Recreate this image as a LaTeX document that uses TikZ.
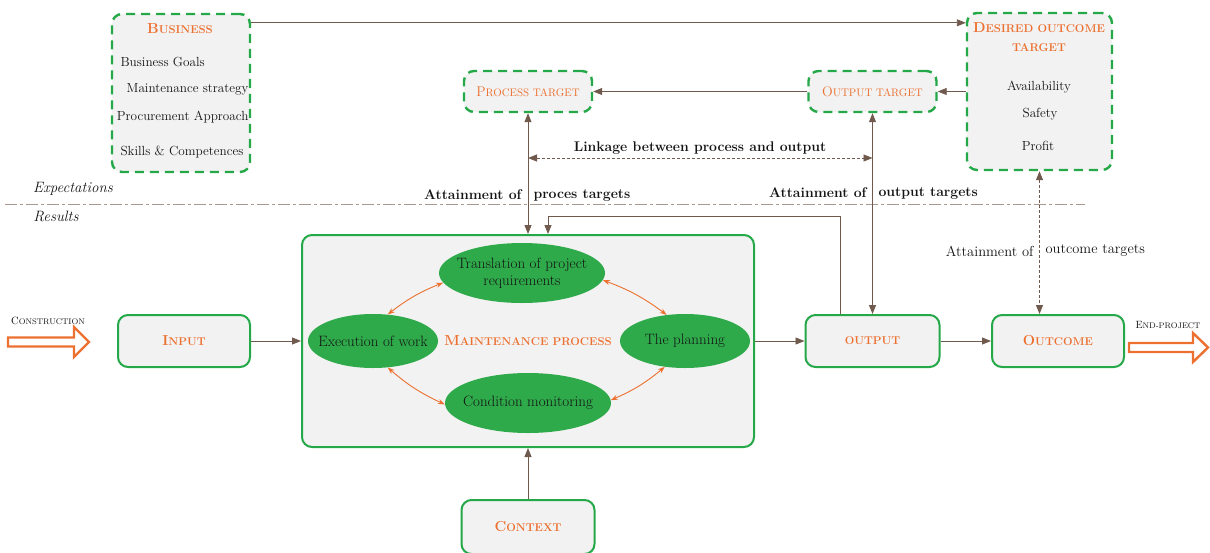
\documentclass[tikz,border=0pt]{standalone}
\usetikzlibrary{arrows.meta,shapes.geometric}

\definecolor{boxgreen}{RGB}{36,168,72}
\definecolor{ellgreen}{RGB}{46,170,74}
\definecolor{accent}{RGB}{236,112,48}
\definecolor{conn}{RGB}{112,90,78}
\definecolor{panel}{RGB}{242,242,242}
\definecolor{divider}{RGB}{168,152,142}
\definecolor{ink}{RGB}{20,20,20}

% capitals followed by reduced capitals (works in bold too)
\makeatletter
\newcommand\smc[1]{{\fontsize{\fpeval{0.78*\f@size}}{0}\selectfont\MakeUppercase{#1}}}
\makeatother

\tikzset{
  solidbox/.style={draw=boxgreen, line width=2pt, rounded corners=10pt, fill=panel},
  dashbox/.style={draw=boxgreen, line width=2.4pt, dash pattern=on 9pt off 6pt,
                  rounded corners=10pt, fill=panel},
  phase/.style={ellipse, fill=ellgreen, inner sep=0pt},
  phasetext/.style={text=ink, align=center, inner sep=0pt,
                    font=\fontsize{15}{17}\selectfont},
  title/.style={text=accent, font=\fontsize{14.5}{21}\selectfont\bfseries, align=center},
  subtitle/.style={text=accent, font=\fontsize{14}{16}\selectfont},
  item/.style={text=ink, font=\fontsize{13.2}{15}\selectfont},
  caption/.style={text=ink, font=\fontsize{14}{16}\selectfont\bfseries},
  link/.style={draw=conn, line width=0.9pt, -{Triangle[length=9pt,width=7pt]}},
  twoway/.style={draw=conn, line width=0.9pt,
                 {Triangle[length=9pt,width=7pt]}-{Triangle[length=9pt,width=7pt]}},
  dashtwoway/.style={twoway, dash pattern=on 3pt off 2pt},
  cyclelink/.style={draw=accent, line width=0.9pt,
                    {Stealth[length=7pt,width=5pt]}-{Stealth[length=7pt,width=5pt]}},
  hollow/.style={draw=accent, line width=2.4pt, fill=white, line join=miter},
  tag/.style={text=ink, font=\fontsize{10.5}{13}\selectfont},
}

\begin{document}
\begin{tikzpicture}[x=1pt,y=-1pt]
\useasboundingbox (0,0) rectangle (1210,552);

% ---- expectations / results divider
\draw[divider, line width=1pt, dash pattern=on 12pt off 3pt on 3pt off 3pt] (5,204) -- (1085,204);
\node[text=ink, font=\fontsize{15}{17}\selectfont\itshape] (expect) at (73,189) {Expectations};
\node[text=ink, font=\fontsize{15}{17}\selectfont\itshape] (results) at (56,216) {Results};

% ---- business box
\node[dashbox, minimum width=138pt, minimum height=158pt] (business) at (181,93) {};
\node[title] (bizhead) at (180,29) {B\smc{usiness}};
\node[item, anchor=west] (goals) at (117,62) {Business Goals};
\node[item, anchor=east] (strategy) at (252,89) {Maintenance strategy};
\node[item, anchor=east] (procure) at (252,117) {Procurement Approach};
\node[item, anchor=east] (skills) at (247,152) {Skills \& Competences};

% ---- desired outcome target
\node[dashbox, minimum width=145pt, minimum height=157pt] (desired) at (1039.5,91.5) {};
\node[title] (deshead) at (1039,37) {D\smc{esired outcome}\\[-2pt]\smc{target}};
\node[item] (avail) at (1039,87) {Availability};
\node[item] (safety) at (1040,114) {Safety};
\node[item] (profit) at (1038,146) {Profit};

% ---- process / output targets
\node[dashbox, minimum width=128pt, minimum height=41pt, subtitle] (proctarget) at (528,91.5) {P\smc{rocess target}};
\node[dashbox, minimum width=128pt, minimum height=41pt, subtitle] (outtarget) at (872.5,91.5) {O\smc{utput target}};

% ---- maintenance process with its four phases
\node[solidbox, minimum width=452pt, minimum height=212pt] (maint) at (528,341) {};
\node[title] (mainthead) at (528,341) {M\smc{aintenance process}};
\node[phase, minimum width=166pt, minimum height=60pt] (trans) at (522,273) {};
\node[phase, minimum width=130pt, minimum height=54pt] (exec) at (373,341) {};
\node[phase, minimum width=130pt, minimum height=54pt] (plan) at (685,341) {};
\node[phase, minimum width=166pt, minimum height=60pt] (cond) at (528,403) {};
\node[phasetext] (transtext) at (trans.center) {Translation of project\\requirements};
\node[phasetext] (exectext) at (exec.center) {Execution of work};
\node[phasetext] (plantext) at (plan.center) {The planning};
\node[phasetext] (condtext) at (cond.center) {Condition monitoring};

\draw[cyclelink] (exec.61) to[bend left=8] (trans.187);
\draw[cyclelink] (trans.355) to[bend left=8] (plan.125);
\draw[cyclelink] (plan.232) to[bend left=8] (cond.2);
\draw[cyclelink] (cond.181) to[bend left=8] (exec.299);

% ---- result chain
\node[solidbox, minimum width=132pt, minimum height=52pt, title] (input) at (184,341) {I\smc{nput}};
\node[solidbox, minimum width=134pt, minimum height=52pt, title] (output) at (872.5,341) {\smc{output}};
\node[solidbox, minimum width=132pt, minimum height=52pt, title] (outcome) at (1058,341) {O\smc{utcome}};
\node[solidbox, minimum width=133pt, minimum height=54pt, title] (context) at (528,527) {C\smc{ontext}};

% ---- connectors
\coordinate (bizout) at ([yshift=-10pt]business.north east);
\draw[link] (bizout) -- (bizout -| desired.west);
\draw[link] (desired.west |- outtarget.east) -- (outtarget.east);
\draw[link] (outtarget) -- (proctarget);
\draw[twoway] (proctarget) -- (maint);
\draw[twoway] (outtarget) -- (output);
\coordinate (linkL) at (528,158);
\coordinate (linkR) at (872.5,158);
\draw[dashtwoway] (linkL) -- (linkR);
\draw[dashtwoway] (desired.south) -- (desired.south |- outcome.north);
\coordinate (fbtop) at (548,216);
\draw[link] ([xshift=-32.5pt]output.north) |- (fbtop) -- (fbtop |- maint.north);
\draw[link] (input) -- (maint);
\draw[link] (maint) -- (output);
\draw[link] (output) -- (outcome);
\draw[link] (context) -- (maint);

% ---- connector captions
\node[caption] (linkcap) at (700,148) {Linkage between process and output};
\node[caption, anchor=east] (proccap) at (525,195) {Attainment of};
\node[caption, anchor=west] (proccap2) at (530,195) {proces targets};
\node[caption, anchor=east] (outcap) at (870,193) {Attainment of};
\node[caption, anchor=west] (outcap2) at (875,193) {output targets};
\node[item, font=\fontsize{14.5}{16}\selectfont, anchor=east] (outcomecap) at (1037,251) {Attainment of};
\node[item, font=\fontsize{14.5}{16}\selectfont, anchor=west] (outcomecap2) at (1042,251) {outcome targets};

% ---- project start / end
\draw[hollow] (8,337.5) -- (74,337.5) -- (74,327) -- (89,342) -- (74,357) -- (74,346.5) -- (8,346.5) -- cycle;
\node[tag] (construct) at (48,321) {C\smc{onstruction}};
\draw[hollow] (1129,343) -- (1193,343) -- (1193,333) -- (1208,347.5) -- (1193,362) -- (1193,352) -- (1129,352) -- cycle;
\node[tag] (endproj) at (1168,325) {E\smc{nd-project}};
\end{tikzpicture}
\end{document}
